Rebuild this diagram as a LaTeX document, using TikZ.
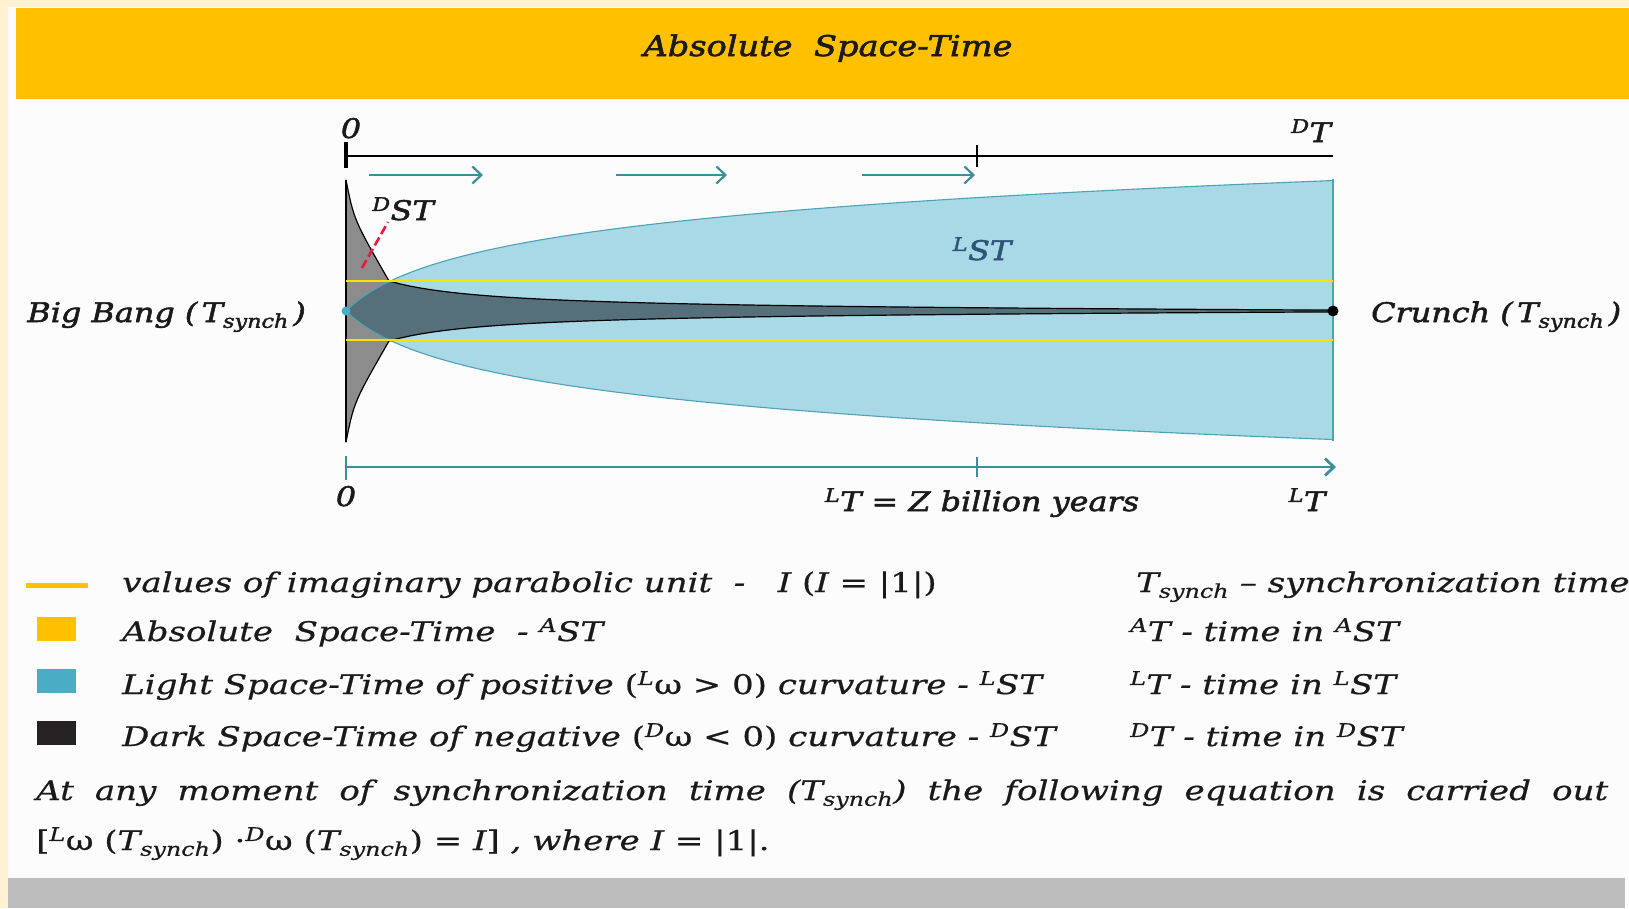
\documentclass[tikz,border=0pt]{standalone}
\usepackage{fontspec}
\setmainfont{DejaVu Serif}[FakeStretch=1.26, FakeBold=0.6]
\newfontfamily\heavy{DejaVu Serif}[FakeStretch=1.18, FakeBold=2]
\usetikzlibrary{arrows.meta}

\definecolor{banner}{HTML}{FFC000}
\definecolor{cream}{HTML}{FFF2D3}
\definecolor{paper}{HTML}{FCFCFC}
\definecolor{barfill}{HTML}{BDBDBD}
\definecolor{lightfill}{HTML}{A9D8E6}
\definecolor{lightedge}{HTML}{4BA3B5}
\definecolor{tealline}{HTML}{3C8E98}
\definecolor{darkfill}{HTML}{8C8C8C}
\definecolor{overlap}{HTML}{55707B}
\definecolor{unitline}{HTML}{FFE100}
\definecolor{redmark}{HTML}{E8193F}
\definecolor{lstink}{HTML}{2E5577}
\definecolor{lightkey}{HTML}{4BACC6}
\definecolor{darkkey}{HTML}{262122}
\definecolor{ink}{HTML}{1A1A1A}

\newcommand{\Ts}{T\textsubscript{synch}}
\newcommand{\pre}[1]{\textsuperscript{#1}}

% outline of the dark space-time funnel
\def\dstshape{(346,180) .. controls (354,220) .. (389,281)
  -- plot[domain=389:1333, samples=90] (\x,{311-3090/(\x-286)*(1-0.7*((\x-389)/944)^2)}) -- (1333,311)
  -- plot[domain=1333:389, samples=90] (\x,{311+3090/(\x-286)*(1-0.7*((\x-389)/944)^2)})
  .. controls (354,402) .. (346,442) -- cycle}
% outline of the light space-time region
\def\lstshape{(346,311) -- plot[domain=346:1333, samples=120] (\x,{311-40.2*ln(1+(\x-346)/40)})
  -- plot[domain=1333:346, samples=120] (\x,{311+39.6*ln(1+(\x-346)/40)}) -- cycle}

\begin{document}
\begin{tikzpicture}[x=1pt, y=-1pt, >={Straight Barb[length=9pt, width=17pt]},
    every node/.style={inner sep=0pt, text=ink, font=\fontsize{27}{32}\selectfont\itshape},
    heavylabel/.style={font=\heavy\fontsize{27}{32}\selectfont\itshape},
    keybox/.style={minimum width=39pt, minimum height=24pt, draw=none}]
    \useasboundingbox (0,0) rectangle (1629,908);

    % page background
    \fill[paper] (0,0) rectangle (1629,908);
    \fill[cream] (0,0) rectangle (8,908);
    \fill[cream] (0,0) rectangle (1629,7);
    \fill[banner] (16,8) rectangle (1629,99);
    \fill[barfill] (8,878) rectangle (1625,908);
    \node[heavylabel, font=\heavy\fontsize{28.5}{32}\selectfont\itshape, anchor=base] (title) at (828,56) {Absolute\ \ Space-Time};

    % regions
    \fill[lightfill] \lstshape;
    \fill[darkfill] \dstshape;
    \begin{scope}
        \clip \lstshape;
        \fill[overlap] \dstshape;
    \end{scope}
    \draw[lightedge, line width=1.1pt] \lstshape;
    \draw[black, line width=1.2pt, line join=round] \dstshape;
    \draw[black, line width=2pt] (346,180) -- (346,442);
    \draw[lightedge, line width=1.1pt] (1333,179) -- (1333,441);

    % imaginary parabolic unit
    \draw[unitline, line width=2.5pt] (346,281) -- (1333,281);
    \draw[unitline, line width=2.5pt] (346,340) -- (1333,340);

    \coordinate (bang) at (346,311);
    \coordinate (crunch) at (1333,311);
    \fill[lightkey] (bang) circle (4.5);
    \fill[black] (crunch) circle (5.5);

    % dark time axis
    \coordinate (d0) at (346,156);
    \coordinate (dz) at (977,156);
    \coordinate (dT) at (1333,156);
    \draw[line width=2.8pt] (d0) -- (dT);
    \draw[line width=3.8pt] (346,142) -- (346,168);
    \draw[line width=2.4pt] (977,145) -- (977,167);
    \node[heavylabel, anchor=base] (dzero) at (351,138) {0};
    \node[heavylabel, anchor=base] (dtime) at (1311,142) {\pre{D}T};

    \foreach \xa/\xb [count=\i] in {369/483, 616/727, 862/975} {
        \coordinate (s\i) at (\xa,175);
        \coordinate (e\i) at (\xb,175);
        \draw[->, tealline, line width=2.2pt] (s\i) -- (e\i);
    }

    % light time axis
    \coordinate (l0) at (346,467);
    \coordinate (lz) at (977,467);
    \coordinate (lT) at (1336,467);
    \draw[->, tealline, line width=2.8pt] (l0) -- (lT);
    \draw[tealline, line width=2.8pt] (346,456) -- (346,480);
    \draw[tealline, line width=2.2pt] (977,457) -- (977,477);
    \node[heavylabel, anchor=base] (lzero) at (346,506) {0};
    \node[heavylabel, anchor=base] (lyears) at (982,511) {\pre{L}T {\upshape=} Z billion years};
    \node[heavylabel, anchor=base] (ltime) at (1307,511) {\pre{L}T};

    % region labels
    \node[heavylabel, anchor=base] (dst) at (403,220) {\pre{D}ST};
    \draw[redmark, line width=2.6pt, dash pattern=on 9pt off 4pt] (362,268) -- (388,222);
    \node[heavylabel, anchor=base, text=lstink] (lst) at (982,260) {\pre{L}ST};
    \node[heavylabel, anchor=base east] (bigbang) at (306,322) {Big Bang (\,\Ts\,)};
    \node[heavylabel, anchor=base west] (crunchlbl) at (1371,322) {Crunch (\,\Ts\,)};

    % legend
    \draw[banner, line width=5pt] (26,585) -- (88,585);
    \node[keybox, fill=banner] (keyA) at (56,629) {};
    \node[keybox, fill=lightkey] (keyL) at (56,681) {};
    \node[keybox, fill=darkkey] (keyD) at (56,733) {};
    \node[anchor=base west] (txtI) at (122,592) {values of imaginary parabolic unit\ \ -\ \ \ I {\upshape(}I {\upshape= |1|)}};
    \node[anchor=base west] (txtA) at (122,641) {Absolute\ \ Space-Time\ \ - \pre{A}ST};
    \node[anchor=base west] (txtL) at (122,694) {Light Space-Time of positive {\upshape(\pre{\itshape L}ω > 0)} curvature - \pre{L}ST};
    \node[anchor=base west] (txtD) at (122,746) {Dark Space-Time of negative {\upshape(\pre{\itshape D}ω < 0)} curvature - \pre{D}ST};
    \node[anchor=base west] (defS) at (1136,592) {\Ts{} – synchronization time};
    \node[anchor=base west] (defA) at (1130,641) {\pre{A}T - time in \pre{A}ST};
    \node[anchor=base west] (defL) at (1130,694) {\pre{L}T - time in \pre{L}ST};
    \node[anchor=base west] (defD) at (1130,746) {\pre{D}T - time in \pre{D}ST};

    % equation
    \node[anchor=base west] (note) at (36,800) {\makebox[1572pt][s]{At any moment of synchronization time (\Ts) the following equation is carried out}};
    \node[anchor=base west] (eqn) at (36,850) {{\upshape[}\pre{L}{\upshape ω (}\Ts{\upshape) ·}\pre{D}{\upshape ω (}\Ts{\upshape) = }I{\upshape]} , where I {\upshape= |1|.}};
\end{tikzpicture}
\end{document}
